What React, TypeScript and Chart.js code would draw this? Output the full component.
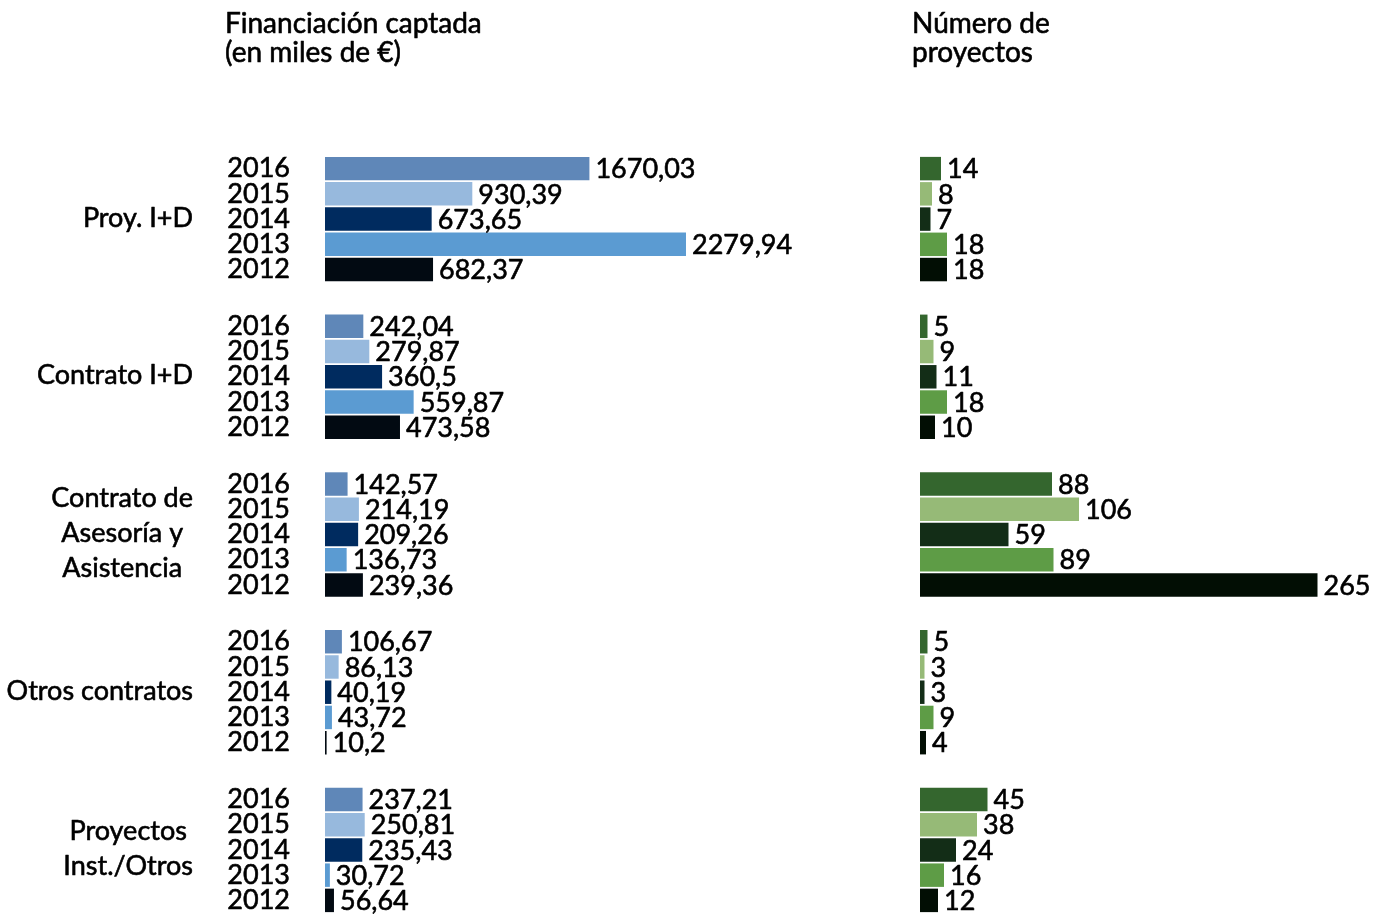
import React, { useEffect, useRef } from "react";
import { Chart, registerables } from "chart.js";

Chart.register(...registerables);

// ---------- data ----------
const YEARS = ["2016", "2015", "2014", "2013", "2012"];
const CATEGORIES = [
  ["Proy. I+D"],
  ["Contrato I+D"],
  ["Contrato de", "Asesoría y", "Asistencia"],
  ["Otros contratos"],
  ["Proyectos", "Inst./Otros"],
];

const FIN_TITLE = ["Financiación captada", "(en miles de €)"];
const PROJ_TITLE = ["Número de", "proyectos"];

// Financiación captada (miles de €) per year, one value per category
const FIN_2016 = [1670.03, 242.04, 142.57, 106.67, 237.21];
const FIN_2015 = [930.39, 279.87, 214.19, 86.13, 250.81];
const FIN_2014 = [673.65, 360.5, 209.26, 40.19, 235.43];
const FIN_2013 = [2279.94, 559.87, 136.73, 43.72, 30.72];
const FIN_2012 = [682.37, 473.58, 239.36, 10.2, 56.64];

// Número de proyectos per year
const PROJ_2016 = [14, 5, 88, 5, 45];
const PROJ_2015 = [8, 9, 106, 3, 38];
const PROJ_2014 = [7, 11, 59, 3, 24];
const PROJ_2013 = [18, 18, 89, 9, 16];
const PROJ_2012 = [18, 10, 265, 4, 12];

const FIN_BY_YEAR = [FIN_2016, FIN_2015, FIN_2014, FIN_2013, FIN_2012];
const PROJ_BY_YEAR = [PROJ_2016, PROJ_2015, PROJ_2014, PROJ_2013, PROJ_2012];

// ---------- styles ----------
const BLUE_COLORS = ["#5f87b8", "#97b9dd", "#002b5f", "#5b9bd2", "#020a12"];
const GREEN_COLORS = ["#34662e", "#96ba77", "#132d17", "#5e9c46", "#020e04"];
const FONT_FAMILY = "Lato, 'Noto Sans', sans-serif";
const NUM_SIZE = 27;
const TEXT_SIZE = 27;
const TITLE_SIZE = 28;
const TEXT_COLOR = "#000";
const TEXT_STROKE = 0.6;
const GROUP_STRIDE = 6.25;
const W = 1385;
const H = 918;
const LEFT_W = 880;
const RIGHT_W = W - LEFT_W;

const posOf = (g: number, i: number) => g * GROUP_STRIDE + i;
const TICK_POSITIONS = CATEGORIES.flatMap((_, g) => YEARS.map((__, i) => posOf(g, i)));
const yearAt = (v: number) => {
  const idx = TICK_POSITIONS.findIndex((p) => Math.abs(p - v) < 0.01);
  return idx < 0 ? "" : YEARS[idx % YEARS.length];
};
const fmt = (v: number) => String(v).replace(".", ",");

const font = (size: number) => `${size}px ${FONT_FAMILY}`;

const drawText = (ctx: CanvasRenderingContext2D, t: string, x: number, y: number) => {
  ctx.fillText(t, x, y);
  ctx.strokeText(t, x, y);
};

const setupText = (ctx: CanvasRenderingContext2D, size: number) => {
  ctx.font = font(size);
  ctx.fillStyle = TEXT_COLOR;
  ctx.strokeStyle = TEXT_COLOR;
  ctx.lineWidth = TEXT_STROKE;
  ctx.lineJoin = "round";
};

const valueLabels = {
  id: "valueLabels",
  afterDatasetsDraw(chart: any) {
    const ctx = chart.ctx;
    ctx.save();
    setupText(ctx, NUM_SIZE);
    ctx.textAlign = "left";
    ctx.textBaseline = "middle";
    chart.data.datasets.forEach((ds: any, di: number) => {
      const meta = chart.getDatasetMeta(di);
      meta.data.forEach((el: any, k: number) => {
        const v = ds.data[k].x;
        drawText(ctx, fmt(v), el.x + 6, el.y + 1);
      });
    });
    ctx.restore();
  },
};

const makeTitle = (lines: string[], x: number) => ({
  id: "panelTitle",
  afterDraw(chart: any) {
    const ctx = chart.ctx;
    ctx.save();
    setupText(ctx, TITLE_SIZE);
    ctx.textAlign = "left";
    ctx.textBaseline = "alphabetic";
    lines.forEach((t, k) => drawText(ctx, t, x, 33 + k * 29));
    ctx.restore();
  },
});

const categoryLabels = {
  id: "categoryLabels",
  afterDraw(chart: any) {
    const ctx = chart.ctx;
    const yScale = chart.scales.y;
    ctx.save();
    setupText(ctx, TEXT_SIZE);
    ctx.textAlign = "center";
    ctx.textBaseline = "middle";
    const right = 193;
    const lineH = 35;
    CATEGORIES.forEach((lines, g) => {
      const cy = yScale.getPixelForValue(posOf(g, 2)) - 1;
      const maxW = Math.max(...lines.map((l) => ctx.measureText(l).width));
      const cx = right - maxW / 2;
      lines.forEach((l, k) => {
        drawText(ctx, l, cx, cy + (k - (lines.length - 1) / 2) * lineH);
      });
    });
    ctx.restore();
  },
};

const buildDatasets = (series: number[][], colors: string[]) =>
  YEARS.map((year, i) => ({
    label: year,
    data: CATEGORIES.map((_, g) => ({ x: series[i][g], y: posOf(g, i) })),
    backgroundColor: colors[i],
    borderWidth: 0,
    grouped: false,
    barPercentage: 0.93,
    categoryPercentage: 1,
  }));

const yScaleBase = (show: boolean) => ({
  type: "linear",
  reverse: true,
  offset: false,
  min: -0.5,
  max: posOf(CATEGORIES.length - 1, YEARS.length - 1) + 0.5,
  display: show,
  grid: { display: false, drawTicks: false, offset: false },
  border: { display: false },
  afterBuildTicks: (s: any) => {
    s.ticks = TICK_POSITIONS.map((v) => ({ value: v }));
  },
  ticks: {
    autoSkip: false,
    padding: 35,
    color: TEXT_COLOR,
    textStrokeColor: TEXT_COLOR,
    textStrokeWidth: TEXT_STROKE,
    font: { family: FONT_FAMILY, size: NUM_SIZE },
    callback: (v: any) => yearAt(Number(v)),
  },
});

const commonOptions = (padding: any, xMax: number, yShow: boolean, axisWidth?: number) => ({
  indexAxis: "y",
  responsive: false,
  maintainAspectRatio: false,
  animation: false,
  devicePixelRatio: 1,
  layout: { autoPadding: false, padding },
  plugins: { legend: { display: false }, tooltip: { enabled: false } },
  scales: {
    x: { type: "linear", min: 0, max: xMax, display: false, offset: false },
    y: {
      ...(yScaleBase(yShow) as any),
      afterFit: (s: any) => {
        if (axisWidth !== undefined) s.width = axisWidth;
        s.paddingTop = 0;
        s.paddingBottom = 0;
      },
    },
  },
});

export default function App() {
  const leftRef = useRef<HTMLCanvasElement>(null);
  const rightRef = useRef<HTMLCanvasElement>(null);

  useEffect(() => {
    const left = new Chart(leftRef.current as HTMLCanvasElement, {
      type: "bar",
      data: { datasets: buildDatasets(FIN_BY_YEAR, BLUE_COLORS) as any },
      options: commonOptions({ top: 156, bottom: 5, left: 0, right: 80 }, 3000, true, 325) as any,
      plugins: [valueLabels, categoryLabels, makeTitle(FIN_TITLE, 225)],
    });

    const right = new Chart(rightRef.current as HTMLCanvasElement, {
      type: "bar",
      data: { datasets: buildDatasets(PROJ_BY_YEAR, GREEN_COLORS) as any },
      options: commonOptions({ top: 156, bottom: 5, left: 40, right: 15 }, 300, false) as any,
      plugins: [valueLabels, makeTitle(PROJ_TITLE, 912 - LEFT_W)],
    });

    return () => {
      left.destroy();
      right.destroy();
    };
  }, []);

  return (
    <div style={{ position: "absolute", left: 0, top: 0, width: W, height: H, background: "#fff", overflow: "hidden" }}>
      <canvas ref={leftRef} width={LEFT_W} height={H} style={{ position: "absolute", left: 0, top: 0 }} />
      <canvas ref={rightRef} width={RIGHT_W} height={H} style={{ position: "absolute", left: LEFT_W, top: 0 }} />
    </div>
  );
}
